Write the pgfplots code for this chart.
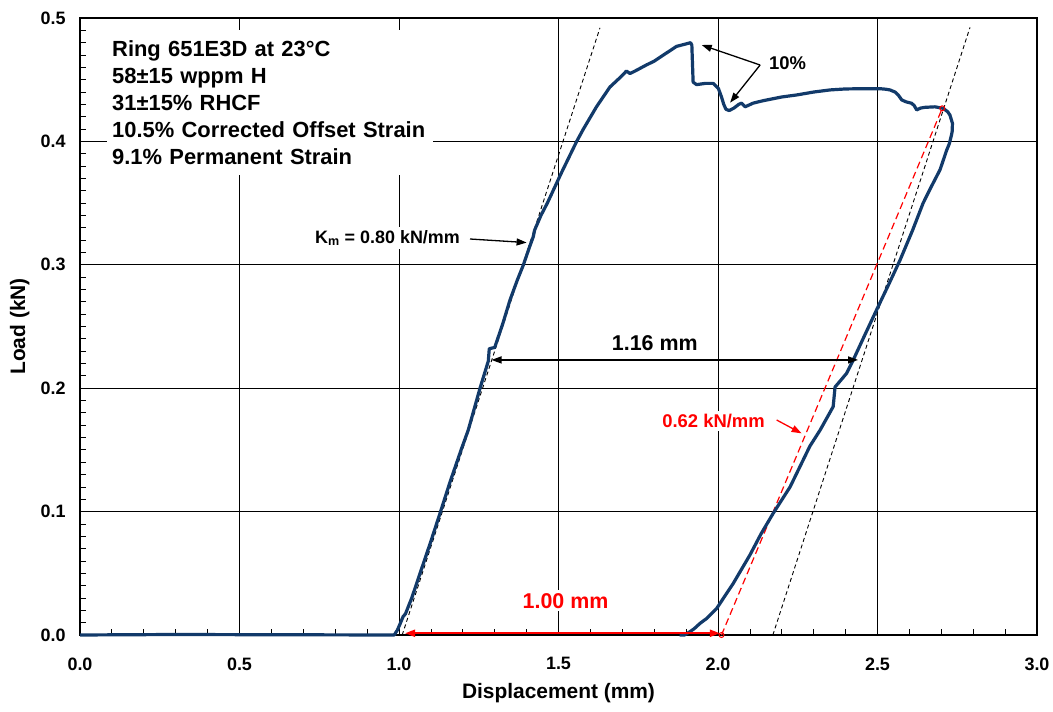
\documentclass[border=0pt]{standalone}
\usepackage{fontspec}
\setmainfont{Liberation Sans}
\usepackage{pgfplots}
\pgfplotsset{compat=1.18}
\usetikzlibrary{arrows.meta}
\definecolor{curveblue}{RGB}{18,58,106}
\definecolor{pred}{RGB}{255,0,0}

\begin{document}
\begin{tikzpicture}
\begin{axis}[
  scale only axis, width=957bp, height=617bp,
  xmin=0, xmax=3, ymin=0, ymax=0.5,
  xtick={0,0.5,1,1.5,2,2.5,3}, ytick={0,0.1,0.2,0.3,0.4,0.5},
  minor x tick num=4, minor y tick num=9,
  tick align=inside, tick pos=left,
  major tick length=6bp, minor tick length=6bp,
  every tick/.style={black, line width=0.8bp},
  grid=major, major grid style={black, line width=0.8bp},
  axis line style={line width=2.5bp},
  scaled ticks=false,
  /pgf/number format/fixed, /pgf/number format/fixed zerofill,
  /pgf/number format/precision=1, /pgf/number format/assume math mode=true,
  ticklabel style={font=\fontsize{18}{20}\selectfont\bfseries},
  xticklabel style={yshift=-19bp},
  yticklabel style={xshift=-11bp},
  label style={font=\fontsize{21}{24}\selectfont\bfseries},
  xlabel={Displacement (mm)}, ylabel={Load (kN)},
  xlabel style={at={(axis description cs:0.5,-0.094)}, anchor=center},
  ylabel style={at={(axis description cs:-0.063,0.5)}, anchor=center},
  clip=false,
]
% offset / modulus lines
\addplot[black, line width=0.9bp, dash pattern=on 4bp off 3bp] coordinates {(1.01,0) (1.63,0.492)};
\addplot[black, line width=0.9bp, dash pattern=on 4bp off 3bp] coordinates {(2.172,0) (2.79,0.4924)};
\addplot[pred, line width=1.2bp, dash pattern=on 7bp off 4bp] coordinates {(2.011,0) (2.703,0.4268)};

% load-displacement curve
\addplot[curveblue, line width=3.2bp, line join=round] coordinates {
(0.000,0.0000) (0.300,0.0004) (0.600,0.0002) (0.985,0.0000)
(0.995,0.0040) (1.005,0.0100) (1.013,0.0150) (1.020,0.0170)
(1.040,0.0300) (1.066,0.0500) (1.100,0.0760) (1.129,0.0990)
(1.160,0.1240) (1.196,0.1510) (1.217,0.1660) (1.254,0.2000)
(1.280,0.2220) (1.283,0.2320) (1.300,0.2330) (1.325,0.2520)
(1.348,0.2715) (1.370,0.2870) (1.390,0.3000) (1.410,0.3150)
(1.421,0.3228) (1.425,0.3280) (1.445,0.3400) (1.465,0.3500)
(1.510,0.3750) (1.557,0.4000) (1.578,0.4100) (1.619,0.4280)
(1.661,0.4440) (1.690,0.4510) (1.713,0.4570) (1.724,0.4550)
(1.740,0.4570) (1.776,0.4620) (1.800,0.4650) (1.829,0.4700)
(1.870,0.4770) (1.900,0.4790) (1.914,0.4800) (1.918,0.4780)
(1.922,0.4480) (1.933,0.4460) (1.960,0.4470) (1.985,0.4470)
(2.001,0.4430) (2.011,0.4360) (2.018,0.4300) (2.025,0.4260)
(2.035,0.4250) (2.050,0.4270) (2.065,0.4300) (2.074,0.4310)
(2.085,0.4280) (2.110,0.4310) (2.142,0.4330) (2.200,0.4360)
(2.246,0.4376) (2.300,0.4400) (2.351,0.4417) (2.400,0.4425)
(2.456,0.4427) (2.508,0.4427) (2.525,0.4423) (2.539,0.4417)
(2.555,0.4400) (2.565,0.4376) (2.576,0.4336) (2.590,0.4320)
(2.607,0.4309) (2.615,0.4290) (2.623,0.4255) (2.635,0.4270)
(2.649,0.4276) (2.680,0.4280) (2.706,0.4268) (2.720,0.4240)
(2.727,0.4214) (2.735,0.4146) (2.734,0.4080) (2.732,0.4052)
(2.725,0.3980) (2.717,0.3930) (2.696,0.3770) (2.670,0.3640)
(2.643,0.3500) (2.610,0.3280) (2.571,0.3040) (2.535,0.2840)
(2.497,0.2634) (2.460,0.2430) (2.424,0.2229) (2.403,0.2120)
(2.377,0.2040) (2.367,0.2010) (2.361,0.1850) (2.320,0.1660)
(2.288,0.1530) (2.226,0.1200) (2.173,0.0986) (2.135,0.0820)
(2.100,0.0648) (2.048,0.0419) (1.996,0.0216) (1.965,0.0135)
(1.944,0.0095) (1.925,0.0050) (1.912,0.0027) (1.895,0.0000)
(1.880,0.0000)
};

% end points of the unloading line
\addplot[pred, only marks, mark=o, mark size=2.5bp, line width=1bp] coordinates {(2.011,0) (2.703,0.4268)};

% annotations
\node[anchor=north west, fill=white, inner xsep=5bp, inner ysep=10bp, align=left, text width=316bp,
  font=\fontsize{22}{27.3}\selectfont\bfseries] at (axis cs:0.0846,0.4903)
  {Ring 651E3D at 23\textdegree C\\58\textpm15 wppm H\\31\textpm15\% RHCF\\10.5\% Corrected Offset Strain\\9.1\% Permanent Strain};

\node[fill=white, inner sep=3bp, font=\fontsize{18}{20}\selectfont\bfseries] at (axis cs:0.964,0.3217) {K\textsubscript{m} = 0.80 kN/mm};
\draw[-{Triangle[length=10bp,width=7bp]}, line width=1.3bp] (axis cs:1.2226,0.3209) -- (axis cs:1.40,0.318);

\node[font=\fontsize{18.5}{20}\selectfont\bfseries] at (axis cs:2.218,0.4633) {10\%};
\draw[-{Triangle[length=10bp,width=7bp]}, line width=1.3bp] (axis cs:2.132,0.4619) -- (axis cs:1.949,0.4781);
\draw[-{Triangle[length=10bp,width=7bp]}, line width=1.3bp] (axis cs:2.132,0.4619) -- (axis cs:2.038,0.4314);

\node[font=\fontsize{21.5}{24}\selectfont\bfseries] at (axis cs:1.802,0.2366) {1.16 mm};
\draw[{Triangle[length=10bp,width=7bp]}-{Triangle[length=10bp,width=7bp]}, line width=1.3bp] (axis cs:1.29,0.2229) -- (axis cs:2.439,0.2229);

\node[fill=white, inner sep=3bp, text=pred, font=\fontsize{18.5}{20}\selectfont\bfseries] at (axis cs:1.986,0.1737) {0.62 kN/mm};
\draw[pred, -{Triangle[length=10bp,width=7bp]}, line width=1.3bp] (axis cs:2.184,0.1742) -- (axis cs:2.262,0.1634);

\node[fill=white, inner sep=3bp, text=pred, font=\fontsize{21.5}{24}\selectfont\bfseries] at (axis cs:1.522,0.0278) {1.00 mm};
\draw[pred, {Triangle[length=10bp,width=7bp]}-{Triangle[length=10bp,width=7bp]}, line width=2bp] (axis cs:1.019,0.0014) -- (axis cs:2.006,0.0014);
\end{axis}
\pgfresetboundingbox
\path[use as bounding box] ([shift={(-80bp,-77bp)}]current axis.south west) rectangle ([shift={(16bp,18bp)}]current axis.north east);
\end{tikzpicture}
\end{document}
